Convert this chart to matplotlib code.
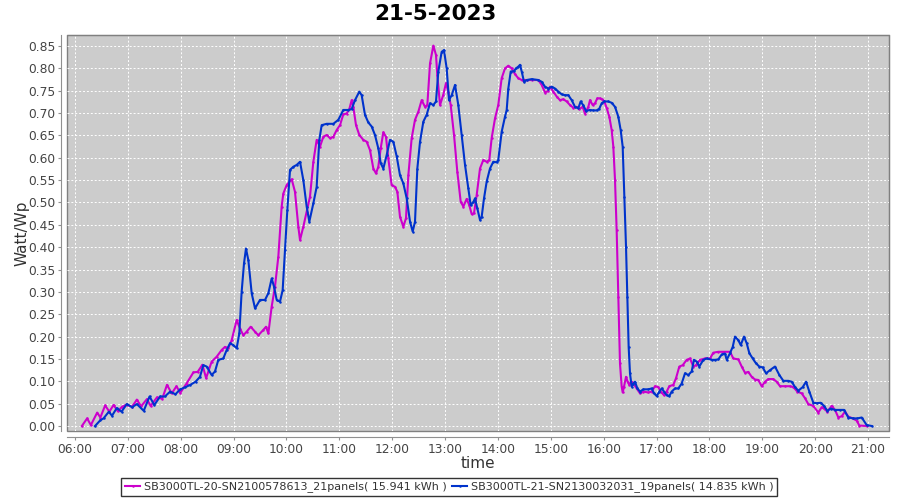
import matplotlib
matplotlib.use("Agg")
import matplotlib.pyplot as plt

# ---- data (time in decimal hours, value in Watt/Wp) ----
t_sb20 = [6.13, 6.23, 6.30, 6.42, 6.48, 6.57, 6.65, 6.73, 6.81, 6.89, 6.98, 7.08, 7.17, 7.25,
          7.36, 7.43, 7.55, 7.65, 7.74, 7.83, 7.92, 7.99, 8.11, 8.24, 8.32, 8.41, 8.48, 8.585,
          8.68, 8.774, 8.837, 8.90, 8.963, 9.058, 9.121, 9.184, 9.247, 9.323, 9.405, 9.468,
          9.562, 9.613, 9.657, 9.720, 9.783, 9.846, 9.909, 9.94, 10.004, 10.099, 10.161,
          10.224, 10.256, 10.319, 10.382, 10.445, 10.508, 10.571, 10.634, 10.697, 10.76,
          10.823, 10.886, 10.949, 11.012, 11.075, 11.138, 11.189, 11.233, 11.264, 11.315,
          11.378, 11.454, 11.517, 11.580, 11.643, 11.693, 11.737, 11.782, 11.832, 11.882,
          11.926, 11.989, 12.053, 12.097, 12.147, 12.210, 12.261, 12.305, 12.368, 12.431,
          12.494, 12.557, 12.620, 12.664, 12.715, 12.778, 12.828, 12.853, 12.904, 12.966,
          13.017, 13.061, 13.106, 13.169, 13.231, 13.295, 13.345, 13.408, 13.458, 13.503,
          13.547, 13.598, 13.660, 13.723, 13.787, 13.836, 13.881, 13.944, 14.006, 14.070,
          14.133, 14.196, 14.260, 14.322, 14.385, 14.449, 14.543, 14.638, 14.763, 14.827,
          14.890, 14.941, 14.984, 15.047, 15.111, 15.173, 15.236, 15.30, 15.362, 15.425,
          15.489, 15.539, 15.602, 15.646, 15.709, 15.741, 15.791, 15.835, 15.879, 15.930,
          15.962, 16.006, 16.057, 16.106, 16.151, 16.182, 16.214, 16.245, 16.276, 16.308,
          16.340, 16.359, 16.384, 16.422, 16.453, 16.484, 16.529, 16.560, 16.624, 16.687,
          16.749, 16.844, 16.908, 16.970, 17.033, 17.078, 17.141, 17.191, 17.241, 17.317,
          17.368, 17.430, 17.494, 17.570, 17.632, 17.695, 17.746, 17.821, 17.916, 18.011,
          18.073, 18.168, 18.262, 18.389, 18.452, 18.546, 18.610, 18.673, 18.735, 18.799,
          18.862, 18.924, 18.988, 19.051, 19.113, 19.208, 19.272, 19.335, 19.429, 19.524,
          19.586, 19.662, 19.745, 19.808, 19.870, 19.965, 20.059, 20.123, 20.186, 20.230,
          20.312, 20.375, 20.438, 20.501, 20.564, 20.627, 20.709, 20.785, 20.835, 20.974]
v_sb20 = [0.000, 0.017, 0.002, 0.030, 0.019, 0.046, 0.032, 0.047, 0.033, 0.043, 0.048, 0.043, 0.059, 0.044,
          0.060, 0.045, 0.064, 0.061, 0.092, 0.073, 0.089, 0.074, 0.095, 0.120, 0.121, 0.137, 0.107, 0.144,
          0.155, 0.170, 0.177, 0.174, 0.192, 0.237, 0.218, 0.203, 0.211, 0.222, 0.211, 0.203,
          0.215, 0.222, 0.207, 0.267, 0.312, 0.379, 0.491, 0.520, 0.539, 0.552, 0.524,
          0.446, 0.416, 0.446, 0.479, 0.513, 0.591, 0.640, 0.625, 0.647, 0.651,
          0.644, 0.647, 0.662, 0.673, 0.697, 0.699, 0.709, 0.729, 0.714, 0.673,
          0.651, 0.640, 0.636, 0.617, 0.576, 0.565, 0.580, 0.621, 0.657, 0.647,
          0.599, 0.539, 0.535, 0.524, 0.468, 0.446, 0.465, 0.561, 0.644, 0.685,
          0.703, 0.729, 0.714, 0.718, 0.811, 0.851, 0.830, 0.785, 0.718, 0.741,
          0.767, 0.748, 0.718, 0.651, 0.569, 0.502, 0.491, 0.508, 0.494, 0.474,
          0.476, 0.517, 0.576, 0.595, 0.591, 0.595, 0.644, 0.688, 0.718, 0.778,
          0.800, 0.806, 0.800, 0.787, 0.778, 0.774, 0.774, 0.774, 0.774, 0.763,
          0.746, 0.749, 0.759, 0.748, 0.737, 0.729, 0.731, 0.726, 0.718, 0.712,
          0.714, 0.709, 0.714, 0.699, 0.714, 0.729, 0.718, 0.722, 0.733, 0.733,
          0.731, 0.728, 0.711, 0.692, 0.662, 0.625, 0.550, 0.438, 0.289, 0.140,
          0.088, 0.075, 0.088, 0.110, 0.099, 0.092, 0.099, 0.095, 0.084, 0.073,
          0.077, 0.075, 0.077, 0.089, 0.087, 0.077, 0.069, 0.077, 0.089, 0.092,
          0.107, 0.133, 0.136, 0.148, 0.151, 0.133, 0.136, 0.148, 0.151, 0.151,
          0.164, 0.166, 0.166, 0.166, 0.151, 0.149, 0.133, 0.119, 0.121, 0.110,
          0.104, 0.103, 0.089, 0.099, 0.105, 0.105, 0.099, 0.089, 0.089, 0.089,
          0.087, 0.077, 0.073, 0.062, 0.049, 0.045, 0.030, 0.042, 0.037, 0.032,
          0.045, 0.036, 0.019, 0.022, 0.032, 0.021, 0.017, 0.012, 0.001, 0.000]

t_sb21 = [6.38, 6.48, 6.54, 6.64, 6.70, 6.79, 6.88, 6.98, 7.08, 7.17, 7.30, 7.41, 7.50, 7.61,
          7.70, 7.80, 7.90, 7.99, 8.09, 8.18, 8.28, 8.364, 8.427, 8.49, 8.585, 8.648, 8.711,
          8.805, 8.869, 8.932, 8.995, 9.058, 9.108, 9.152, 9.197, 9.234, 9.279, 9.342, 9.405,
          9.499, 9.594, 9.657, 9.720, 9.764, 9.815, 9.877, 9.928, 9.972, 10.016, 10.067,
          10.13, 10.193, 10.256, 10.319, 10.382, 10.432, 10.508, 10.571, 10.621, 10.666,
          10.76, 10.886, 10.981, 11.075, 11.17, 11.233, 11.296, 11.378, 11.422, 11.485,
          11.548, 11.611, 11.674, 11.737, 11.782, 11.832, 11.895, 11.958, 12.021, 12.085,
          12.147, 12.210, 12.274, 12.337, 12.387, 12.431, 12.475, 12.526, 12.589, 12.651,
          12.715, 12.778, 12.828, 12.872, 12.935, 12.979, 13.03, 13.074, 13.125, 13.188,
          13.250, 13.314, 13.377, 13.439, 13.484, 13.534, 13.566, 13.610, 13.660, 13.692,
          13.736, 13.787, 13.849, 13.912, 13.975, 14.006, 14.07, 14.133, 14.165, 14.196,
          14.241, 14.303, 14.341, 14.385, 14.417, 14.449, 14.493, 14.543, 14.638, 14.763,
          14.827, 14.890, 14.953, 15.016, 15.079, 15.142, 15.205, 15.268, 15.331, 15.394,
          15.457, 15.520, 15.564, 15.615, 15.665, 15.741, 15.804, 15.867, 15.917, 15.962,
          16.006, 16.087, 16.151, 16.214, 16.276, 16.321, 16.359, 16.390, 16.422, 16.447,
          16.472, 16.497, 16.529, 16.560, 16.592, 16.637, 16.687, 16.749, 16.844, 16.908,
          16.952, 17.002, 17.052, 17.097, 17.141, 17.191, 17.241, 17.286, 17.349, 17.411,
          17.475, 17.538, 17.600, 17.664, 17.707, 17.759, 17.808, 17.884, 17.948, 18.043,
          18.105, 18.168, 18.232, 18.295, 18.326, 18.389, 18.440, 18.483, 18.546, 18.591,
          18.654, 18.705, 18.754, 18.818, 18.881, 18.943, 19.007, 19.070, 19.146, 19.240,
          19.322, 19.398, 19.492, 19.556, 19.619, 19.681, 19.764, 19.827, 19.889, 19.965,
          20.028, 20.104, 20.166, 20.230, 20.293, 20.375, 20.470, 20.545, 20.627, 20.722,
          20.797, 20.880, 20.974, 21.069]
v_sb21 = [0.000, 0.013, 0.017, 0.032, 0.023, 0.040, 0.032, 0.049, 0.042, 0.049, 0.034, 0.066, 0.047, 0.066,
          0.066, 0.077, 0.071, 0.082, 0.087, 0.092, 0.099, 0.110, 0.136, 0.133, 0.114, 0.122, 0.148,
          0.151, 0.170, 0.185, 0.181, 0.174, 0.207, 0.300, 0.364, 0.397, 0.371, 0.297, 0.263,
          0.282, 0.282, 0.297, 0.330, 0.312, 0.282, 0.278, 0.304, 0.394, 0.483, 0.573,
          0.580, 0.584, 0.591, 0.550, 0.491, 0.457, 0.498, 0.535, 0.640, 0.673,
          0.676, 0.676, 0.685, 0.707, 0.707, 0.709, 0.729, 0.748, 0.740, 0.696,
          0.679, 0.670, 0.651, 0.621, 0.588, 0.576, 0.606, 0.640, 0.636, 0.603,
          0.561, 0.543, 0.509, 0.457, 0.435, 0.457, 0.576, 0.636, 0.681, 0.696,
          0.722, 0.718, 0.726, 0.793, 0.837, 0.841, 0.800, 0.729, 0.740, 0.763,
          0.718, 0.651, 0.584, 0.532, 0.494, 0.501, 0.509, 0.487, 0.461, 0.468,
          0.509, 0.547, 0.576, 0.591, 0.590, 0.595, 0.658, 0.692, 0.707, 0.755,
          0.793, 0.794, 0.800, 0.804, 0.808, 0.793, 0.770, 0.774, 0.776, 0.774,
          0.770, 0.759, 0.755, 0.759, 0.755, 0.748, 0.742, 0.740, 0.740, 0.729,
          0.714, 0.711, 0.726, 0.717, 0.705, 0.707, 0.706, 0.706, 0.710, 0.722,
          0.726, 0.726, 0.723, 0.714, 0.692, 0.662, 0.625, 0.513, 0.401, 0.289,
          0.177, 0.118, 0.088, 0.095, 0.099, 0.084, 0.077, 0.082, 0.082, 0.084,
          0.073, 0.067, 0.077, 0.084, 0.077, 0.069, 0.067, 0.077, 0.084, 0.084,
          0.095, 0.118, 0.114, 0.122, 0.148, 0.144, 0.133, 0.148, 0.151, 0.148,
          0.148, 0.149, 0.160, 0.162, 0.148, 0.163, 0.177, 0.200, 0.192, 0.181,
          0.200, 0.185, 0.163, 0.151, 0.140, 0.133, 0.131, 0.118, 0.125, 0.133,
          0.114, 0.101, 0.101, 0.099, 0.087, 0.079, 0.087, 0.099, 0.077, 0.052,
          0.051, 0.052, 0.045, 0.034, 0.039, 0.036, 0.036, 0.036, 0.019, 0.017,
          0.017, 0.019, 0.002, 0.000]

label_sb20 = "SB3000TL-20-SN2100578613_21panels( 15.941 kWh )"
label_sb21 = "SB3000TL-21-SN2130032031_19panels( 14.835 kWh )"

hour_ticks = [6, 7, 8, 9, 10, 11, 12, 13, 14, 15, 16, 17, 18, 19, 20, 21]
hour_labels = ["06:00", "07:00", "08:00", "09:00", "10:00", "11:00", "12:00", "13:00",
               "14:00", "15:00", "16:00", "17:00", "18:00", "19:00", "20:00", "21:00"]
y_ticks = [0.00, 0.05, 0.10, 0.15, 0.20, 0.25, 0.30, 0.35, 0.40, 0.45,
           0.50, 0.55, 0.60, 0.65, 0.70, 0.75, 0.80, 0.85]

plt.rcParams['font.family'] = ['DejaVu Sans']

fig = plt.figure(figsize=(9, 5), dpi=100)
fig.patch.set_facecolor('white')
ax = fig.add_axes([67 / 900, 69 / 500, 822 / 900, 396 / 500])

ax.set_facecolor('#cccccc')
ax.patch.set_edgecolor('#808080')
ax.patch.set_linewidth(1.0)

ax.plot(t_sb20, v_sb20, color='#cc00cc', lw=1.5, marker='o', ms=0.8, label=label_sb20, zorder=3)
ax.plot(t_sb21, v_sb21, color='#0033cc', lw=1.5, marker='o', ms=0.8, label=label_sb21, zorder=4)

ax.set_xlim(5.849, 21.396)
ax.set_ylim(-0.0112, 0.8747)
ax.set_xticks(hour_ticks)
ax.set_xticklabels(hour_labels)
ax.set_yticks(y_ticks)
ax.set_yticklabels([f"{v:.2f}" for v in y_ticks])

ax.grid(True, color='white', linestyle=(0, (2, 2)), linewidth=0.7)
ax.set_axisbelow(True)

for side in ['top', 'right']:
    ax.spines[side].set_color('#808080')
for side in ['left', 'bottom']:
    ax.spines[side].set_position(('outward', 4))
    ax.spines[side].set_color('#909090')
ax.tick_params(axis='both', direction='out', length=2.5, width=0.8, color='#909090',
               labelsize=8.8, labelcolor='#444444', pad=2)

ax.set_xlabel('time', fontsize=11, color='#333333', va='center')
ax.set_ylabel('Watt/Wp', fontsize=11, color='#333333', va='center')
ax.xaxis.set_label_coords(0.5, -0.082)
ax.yaxis.set_label_coords(-0.055, 0.5)

fig.text(0.484, 0.971, '21-5-2023', ha='center', va='center', fontsize=15.5, fontweight='bold')

leg = fig.legend(loc='center', bbox_to_anchor=(0.499, 0.026), ncol=2, fontsize=8,
                 frameon=True, fancybox=False, edgecolor='black', borderpad=0.3,
                 handlelength=1.4, handletextpad=0.3, columnspacing=0.5, borderaxespad=0)
leg.get_frame().set_linewidth(1.0)
for txt in leg.get_texts():
    txt.set_color('#333333')

fig.savefig('out.png', dpi=100)
